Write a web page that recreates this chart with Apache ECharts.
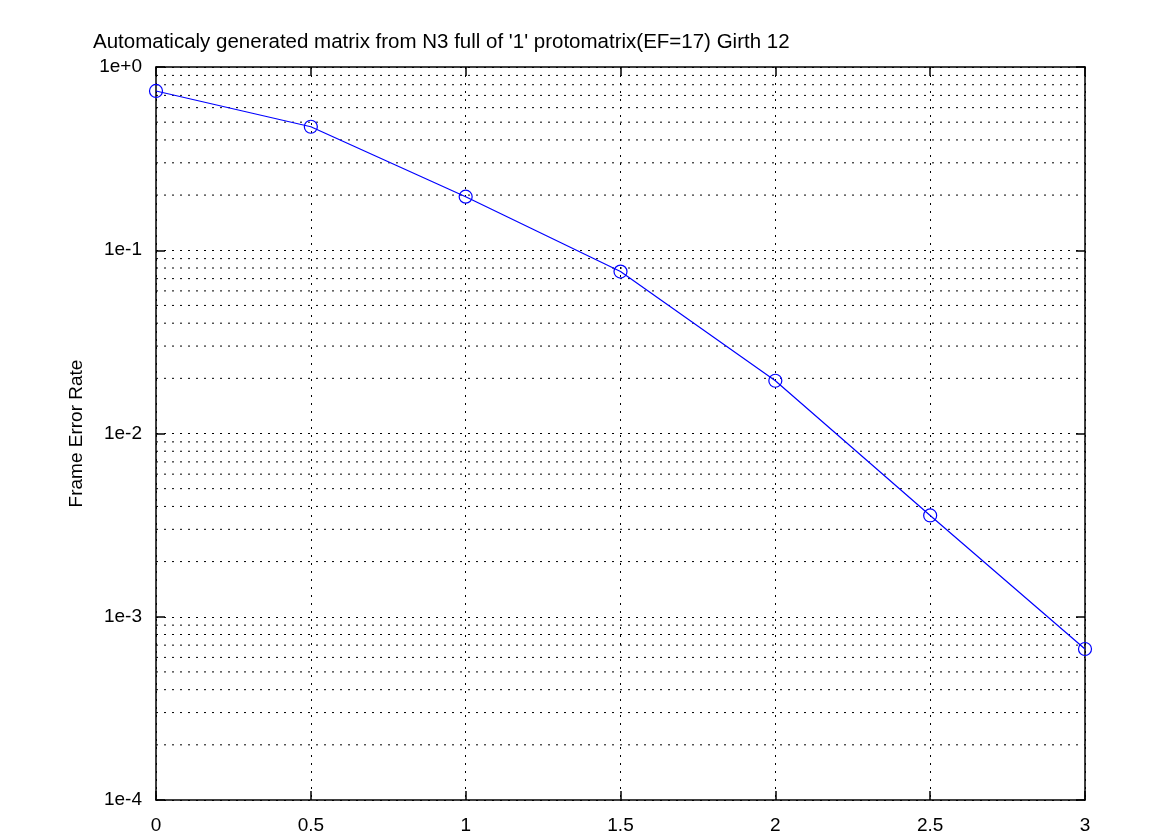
<!DOCTYPE html>
<html>
<head>
<meta charset="utf-8">
<script src="https://cdn.jsdelivr.net/npm/echarts@6/dist/echarts.min.js"></script>
<style>
html,body{margin:0;padding:0;background:#fff;}
#chart{width:1175px;height:835px;}
</style>
</head>
<body>
<div id="chart"></div>
<script>
const titleText = "Automaticaly generated matrix from N3 full of '1' protomatrix(EF=17) Girth 12";
const yAxisName = "Frame Error Rate";
const snrValues = [0, 0.5, 1, 1.5, 2, 2.5, 3];
const ferValues = [0.740, 0.472, 0.196, 0.0765, 0.0194, 0.00357, 0.000667];
const decades = [1e-4, 1e-3, 1e-2, 1e-1];
const minorMultipliers = [2, 3, 4, 5, 6, 7, 8, 9];
const xRange = [0, 3];

const minorValues = [];
decades.forEach(d => minorMultipliers.forEach(m => minorValues.push(+(d * m).toPrecision(6))));

const FONT = 'Liberation Sans, Arial, sans-serif';
const dotted = { color: '#000', width: 1, type: [2, 6] };

const minorSeries = minorValues.map(v => ({
  type: 'line', xAxisIndex: 0, yAxisIndex: 0,
  data: [[xRange[0], v], [xRange[1], v]],
  symbol: 'none', silent: true, z: 1,
  lineStyle: dotted, emphasis: { disabled: true }, tooltip: { show: false }
}));

const chart = echarts.init(document.getElementById('chart'), null, { renderer: 'canvas' });
chart.setOption({
  animation: false,
  backgroundColor: '#fff',
  title: {
    text: titleText, left: 88, top: 27,
    textStyle: { fontFamily: FONT, fontSize: 20.5, fontWeight: 'normal', color: '#000' }
  },
  grid: { left: 156, right: 90, top: 67, bottom: 35, containLabel: false },
  xAxis: [{
    type: 'value', min: 0, max: 3, interval: 0.5,
    axisLine: { show: true, onZero: false, lineStyle: { color: '#000', width: 1.5 } },
    axisTick: { show: true, inside: true, length: 9, lineStyle: { color: '#000', width: 1.5 } },
    axisLabel: { color: '#000', fontFamily: FONT, fontSize: 19, margin: 16 },
    splitLine: { show: true, lineStyle: dotted }
  }, {
    type: 'value', min: 0, max: 3, interval: 0.5, position: 'top',
    axisLine: { show: true, onZero: false, lineStyle: { color: '#000', width: 1.5 } },
    axisTick: { show: true, inside: true, length: 9, lineStyle: { color: '#000', width: 1.5 } },
    axisLabel: { show: false }, splitLine: { show: false }
  }],
  yAxis: [{
    type: 'log', logBase: 10, min: 1e-4, max: 1,
    name: yAxisName, nameLocation: 'middle', nameGap: 70,
    nameTextStyle: { color: '#000', fontFamily: FONT, fontSize: 19 },
    axisLine: { show: true, onZero: false, lineStyle: { color: '#000', width: 1.5 } },
    axisTick: { show: true, inside: true, length: 9, lineStyle: { color: '#000', width: 1.5 } },
    axisLabel: {
      color: '#000', fontFamily: FONT, fontSize: 19, margin: 14, padding: [4, 0, 0, 0],
      formatter: v => { const e = Math.round(Math.log10(v)); return '1e' + (e >= 0 ? '+' : '') + e; }
    },
    splitLine: { show: true, lineStyle: dotted }
  }, {
    type: 'log', logBase: 10, min: 1e-4, max: 1, position: 'right',
    axisLine: { show: true, onZero: false, lineStyle: { color: '#000', width: 1.5 } },
    axisTick: { show: true, inside: true, length: 9, lineStyle: { color: '#000', width: 1.5 } },
    axisLabel: { show: false }, splitLine: { show: false }
  }],
  series: minorSeries.concat([{
    type: 'line',
    data: snrValues.map((x, i) => [x, ferValues[i]]),
    xAxisIndex: 0, yAxisIndex: 0,
    lineStyle: { color: '#0000ff', width: 1.2 },
    itemStyle: { color: 'rgba(0,0,0,0)', borderColor: '#0000ff', borderWidth: 1.2 },
    symbol: 'circle', symbolSize: 13,
    z: 5
  }])
});
</script>
</body>
</html>
